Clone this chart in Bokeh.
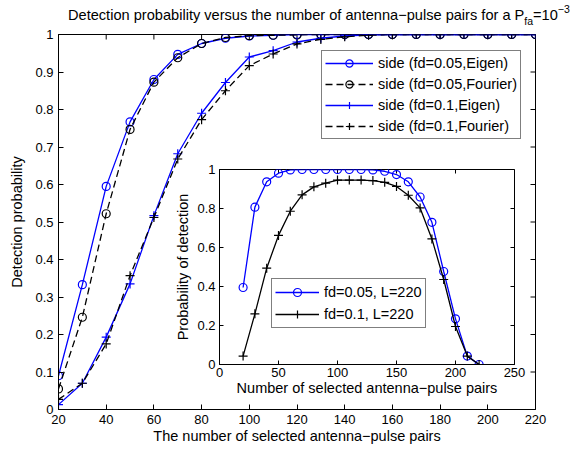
import math
from bokeh.plotting import figure
from bokeh.models import Range1d, FixedTicker, GridBox, Div
from bokeh.embed import file_html
from bokeh.resources import INLINE

FONT = "Liberation Sans"
BLUE = "#0000ff"
BLACK = "#000000"

# ---------------- data: main chart ----------------
n_pairs = [20, 30, 40, 50, 60, 70, 80, 90, 100, 110, 120, 130, 140, 150, 160, 170, 180, 190, 200, 210, 220]
eigen_fd005 = [0.09, 0.333, 0.595, 0.767, 0.88, 0.947, 0.976, 0.99, 0.996, 0.998, 1.0, 1.0, 1.0, 1.0, 1.0, 1.0, 1.0, 1.0, 1.0, 1.0, 1.0]
fourier_fd005 = [0.055, 0.246, 0.522, 0.747, 0.873, 0.938, 0.976, 0.992, 0.997, 0.998, 0.999, 1.0, 1.0, 1.0, 1.0, 1.0, 1.0, 1.0, 1.0, 1.0, 1.0]
eigen_fd01 = [0.013, 0.07, 0.193, 0.335, 0.517, 0.682, 0.79, 0.872, 0.94, 0.957, 0.98, 0.99, 0.996, 0.999, 1.0, 1.0, 1.0, 1.0, 1.0, 1.0, 1.0]
fourier_fd01 = [0.027, 0.07, 0.175, 0.357, 0.512, 0.668, 0.773, 0.85, 0.917, 0.948, 0.975, 0.987, 0.994, 0.998, 1.0, 1.0, 1.0, 1.0, 1.0, 1.0, 1.0]
main_labels = ["side (fd=0.05,Eigen)", "side (fd=0.05,Fourier)", "side (fd=0.1,Eigen)", "side (fd=0.1,Fourier)"]

main_x_ticks = [20, 40, 60, 80, 100, 120, 140, 160, 180, 200, 220]
main_x_tick_labels = ["20", "40", "60", "80", "100", "120", "140", "160", "180", "200", "220"]
main_y_ticks = [0.0, 0.1, 0.2, 0.3, 0.4, 0.5, 0.6, 0.7, 0.8, 0.9, 1.0]
main_y_tick_labels = ["0", "0.1", "0.2", "0.3", "0.4", "0.5", "0.6", "0.7", "0.8", "0.9", "1"]

# ---------------- data: inset ----------------
inset_pairs = [20, 30, 40, 50, 60, 70, 80, 90, 100, 110, 120, 130, 140, 150, 160, 170, 180, 190, 200, 210, 220]
inset_fd005 = [0.395, 0.807, 0.937, 0.981, 0.998, 1.0, 1.0, 1.0, 1.0, 1.0, 1.0, 0.998, 0.991, 0.974, 0.937, 0.859, 0.729, 0.477, 0.234, 0.043, 0.0]
inset_fd01 = [0.043, 0.26, 0.494, 0.662, 0.786, 0.87, 0.911, 0.93, 0.946, 0.946, 0.946, 0.943, 0.934, 0.913, 0.868, 0.803, 0.644, 0.436, 0.195, 0.043, 0.0]
inset_labels = ["fd=0.05, L=220", "fd=0.1, L=220"]

inset_x_ticks = [0, 50, 100, 150, 200, 250]
inset_x_tick_labels = ["0", "50", "100", "150", "200", "250"]
inset_y_ticks = [0.0, 0.2, 0.4, 0.6, 0.8, 1.0]
inset_y_tick_labels = ["0", "0.2", "0.4", "0.6", "0.8", "1"]

TITLE_MAIN = "Detection probability versus the number of antenna\u2212pulse pairs for a P"
TITLE_SUB = "fa"
TITLE_EQ = "=10"
TITLE_SUP = "\u22123"
XLABEL = "The number of selected antenna\u2212pulse pairs"
YLABEL = "Detection probability"
INSET_XLABEL = "Number of selected antenna\u2212pulse pairs"
INSET_YLABEL = "Probability of detection"


def style_axis(ax, ticks, labels, tick_len=5, size="13px"):
    ax.ticker = FixedTicker(ticks=ticks)
    ax.major_label_overrides = {t: l for t, l in zip(ticks, labels)}
    ax.major_tick_in = tick_len
    ax.major_tick_out = 0
    ax.minor_tick_line_color = None
    ax.axis_line_color = BLACK
    ax.major_tick_line_color = BLACK
    ax.major_label_text_font = FONT
    ax.major_label_text_font_size = size
    ax.major_label_text_color = BLACK
    ax.axis_label_text_font = FONT
    ax.axis_label_text_font_style = "normal"
    ax.axis_label_text_color = BLACK
    ax.axis_label_text_font_size = "14.5px"


def mirror_ticks(fig, xticks, yticks, size):
    # inward ticks on the top and right edges (half of each dash lies inside the frame)
    fig.scatter(xticks, [fig.y_range.end] * len(xticks), marker="dash", angle=math.pi / 2,
                size=size, line_color=BLACK, line_width=1)
    fig.scatter([fig.x_range.end] * len(yticks), yticks, marker="dash",
                size=size, line_color=BLACK, line_width=1)


# borders shared by both figures (the grid aligns frames of plots in one cell)
BL, BR, BT, BB = 58, 37, 34, 40

# ---------------- main figure ----------------
p = figure(width=572, height=449, x_range=Range1d(20, 220), y_range=Range1d(0, 1),
           output_backend="svg", toolbar_location=None,
           min_border_left=BL, min_border_right=BR, min_border_top=BT, min_border_bottom=BB)
p.grid.visible = False
p.outline_line_color = BLACK
p.background_fill_color = "white"
p.border_fill_color = "white"

style_axis(p.xaxis[0], main_x_ticks, main_x_tick_labels)
p.xaxis[0].major_label_standoff = 5
p.xaxis[0].axis_label = XLABEL
p.xaxis[0].axis_label_standoff = 1
style_axis(p.yaxis[0], main_y_ticks, main_y_tick_labels)
p.yaxis[0].major_label_standoff = 5
p.yaxis[0].axis_label = YLABEL
p.yaxis[0].axis_label_standoff = 7
mirror_ticks(p, main_x_ticks, main_y_ticks, 10)

series = [
    (eigen_fd005, BLUE, "solid", "circle"),
    (fourier_fd005, BLACK, "7 4", "circle"),
    (eigen_fd01, BLUE, "solid", "cross"),
    (fourier_fd01, BLACK, "7 4", "cross"),
]
for (vals, col, dash, mk), lab in zip(series, main_labels):
    p.line(n_pairs, vals, line_color=col, line_width=1.3, line_dash=dash, legend_label=lab)
    p.scatter(n_pairs, vals, marker=mk, size=9 if mk == "cross" else 8, fill_color=None,
              line_color=col, line_width=1.2, legend_label=lab)

lg = p.legend[0]
lg.location = (263, 270)
lg.border_line_color = BLACK
lg.background_fill_color = "white"
lg.background_fill_alpha = 1
lg.label_text_font = FONT
lg.label_text_font_size = "14.5px"
lg.label_text_color = BLACK
lg.glyph_width = 48
lg.glyph_height = 18
lg.label_height = 18
lg.label_standoff = 5
lg.padding = 3
lg.spacing = 3
lg.margin = 0

# ---------------- inset figure ----------------
# inset frame: 295 x 195 px, top-left at (219, 169) on the page
inset = figure(width=BL + 295 + BR, height=BT + 195 + BB, x_range=Range1d(0, 250), y_range=Range1d(0, 1),
               output_backend="svg", toolbar_location=None,
               min_border_left=BL, min_border_right=BR, min_border_top=BT, min_border_bottom=BB)
inset.grid.visible = False
inset.outline_line_color = BLACK
inset.background_fill_color = "white"
inset.border_fill_color = None
inset.margin = (169 - BT, 0, 0, 219 - BL)

style_axis(inset.xaxis[0], inset_x_ticks, inset_x_tick_labels, tick_len=4)
inset.xaxis[0].major_label_standoff = 3
inset.xaxis[0].axis_label = INSET_XLABEL
inset.xaxis[0].axis_label_standoff = 0
style_axis(inset.yaxis[0], inset_y_ticks, inset_y_tick_labels, tick_len=4)
inset.yaxis[0].major_label_standoff = 4
inset.yaxis[0].axis_label = INSET_YLABEL
inset.yaxis[0].axis_label_standoff = 3
mirror_ticks(inset, inset_x_ticks, inset_y_ticks, 8)

inset_series = [(inset_fd005, BLUE, "circle"), (inset_fd01, BLACK, "cross")]
for (vals, col, mk), lab in zip(inset_series, inset_labels):
    inset.line(inset_pairs, vals, line_color=col, line_width=1.3, legend_label=lab)
    inset.scatter(inset_pairs, vals, marker=mk, size=9 if mk == "cross" else 8, fill_color=None,
                  line_color=col, line_width=1.2, legend_label=lab)

ilg = inset.legend[0]
ilg.location = (52, 36)
ilg.border_line_color = BLACK
ilg.background_fill_color = "white"
ilg.background_fill_alpha = 1
ilg.label_text_font = FONT
ilg.label_text_font_size = "14.5px"
ilg.label_text_color = BLACK
ilg.glyph_width = 44
ilg.glyph_height = 20
ilg.label_height = 20
ilg.label_standoff = 5
ilg.padding = 3
ilg.spacing = 2
ilg.margin = 0

# ---------------- title (real text with sub/superscript) ----------------
title_html = (
    TITLE_MAIN
    + '<span style="font-size:10.5px;position:relative;top:5px;">' + TITLE_SUB + "</span>"
    + TITLE_EQ
    + '<span style="font-size:10.5px;position:relative;top:-7px;">' + TITLE_SUP + "</span>"
)
title = Div(text=title_html, width=504, height=18, margin=(7, 0, 0, 68),
            styles={"font-family": FONT, "font-size": "14.6px", "line-height": "16px",
                    "white-space": "nowrap", "color": "black"})

layout = GridBox(children=[(p, 0, 0), (inset, 0, 0), (title, 0, 0)])

open("out.html", "w").write(file_html(layout, INLINE))
